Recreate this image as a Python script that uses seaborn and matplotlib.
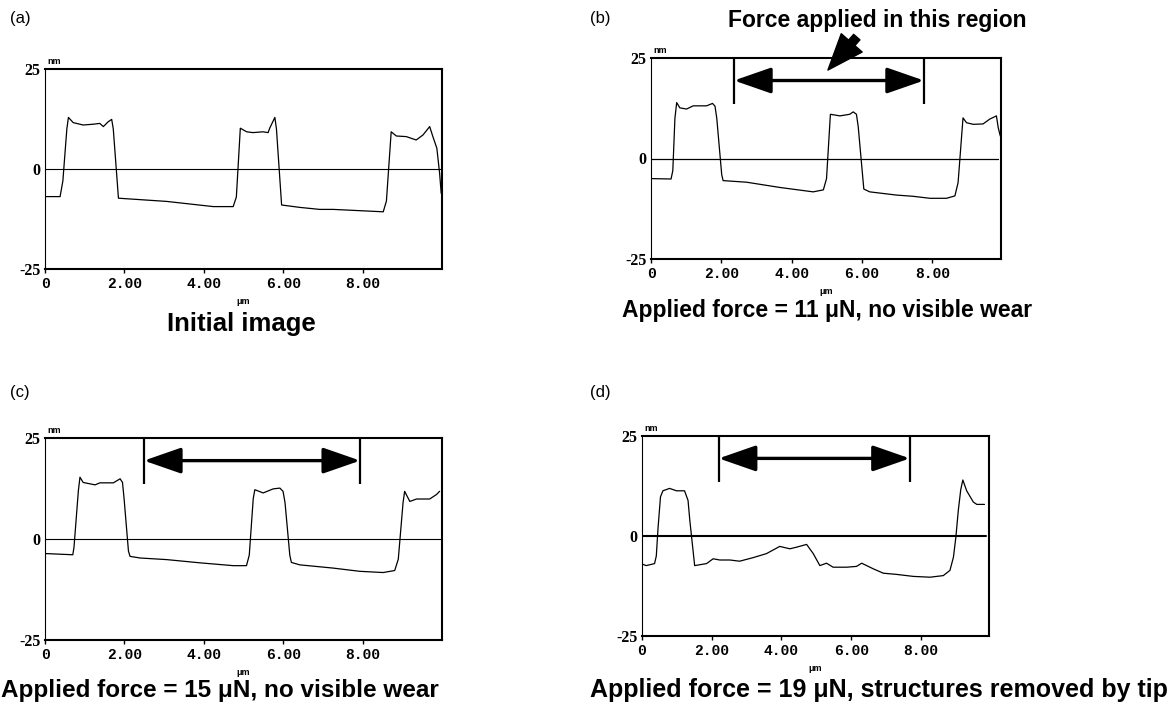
import numpy as np
import pandas as pd
import matplotlib
matplotlib.use('Agg')
import matplotlib.pyplot as plt
import seaborn as sns

sns.set_style('white')
plt.rcParams['font.family'] = ['Liberation Sans', 'DejaVu Sans']
plt.rcParams['text.color'] = 'black'
plt.rcParams['xtick.color'] = 'black'
plt.rcParams['ytick.color'] = 'black'
plt.rcParams['axes.labelcolor'] = 'black'

# AFM height profiles (x in um, height in nm)
a_x = [0.0, 0.38, 0.45, 0.55, 0.59, 0.71, 0.96, 1.22, 1.38, 1.47, 1.59, 1.68, 1.72, 1.85, 3.06, 4.24, 4.74,
       4.82, 4.92, 5.08, 5.24, 5.49, 5.62, 5.66, 5.79, 5.83, 5.96, 6.42, 6.92, 7.26, 8.10, 8.52, 8.60, 8.72,
       8.85, 9.10, 9.35, 9.52, 9.69, 9.77, 9.87, 9.94, 9.98]
a_y = [-6.9, -6.9, -3.0, 10.0, 12.9, 11.6, 11.0, 11.2, 11.4, 10.6, 11.8, 12.4, 10.0, -7.3, -8.1, -9.4, -9.4,
       -7.0, 10.2, 9.3, 9.1, 9.3, 9.1, 10.2, 12.9, 10.0, -9.0, -9.6, -10.1, -10.1, -10.5, -10.7, -8.0, 9.3,
       8.25, 8.1, 7.25, 8.5, 10.6, 8.1, 5.2, -1.1, -6.1]

b_x = [0.0, 0.57, 0.62, 0.68, 0.73, 0.82, 1.01, 1.20, 1.58, 1.75, 1.82, 1.87, 2.01, 2.05, 2.72, 3.66, 4.61,
       4.90, 4.99, 5.10, 5.37, 5.65, 5.75, 5.84, 5.89, 6.05, 6.22, 6.98, 7.45, 7.93, 8.40, 8.64, 8.73, 8.87,
       8.97, 9.16, 9.44, 9.63, 9.82, 9.87, 9.93]
b_y = [-5.0, -5.1, -3.0, 10.0, 13.9, 12.6, 12.3, 13.1, 13.1, 13.7, 13.0, 10.0, -4.0, -5.5, -5.9, -7.2, -8.3,
       -7.8, -5.0, 11.0, 10.6, 11.0, 11.6, 11.0, 8.0, -7.6, -8.3, -9.1, -9.4, -9.9, -9.9, -9.3, -6.0, 10.1,
       8.9, 8.5, 8.6, 9.8, 10.6, 7.7, 5.6]

c_x = [0.0, 0.70, 0.73, 0.84, 0.88, 0.96, 1.26, 1.38, 1.72, 1.89, 1.95, 1.99, 2.10, 2.14, 2.39, 3.06, 3.90,
       4.74, 5.07, 5.14, 5.24, 5.28, 5.49, 5.74, 5.91, 5.99, 6.04, 6.16, 6.20, 6.41, 7.25, 7.92, 8.51, 8.80,
       8.89, 9.01, 9.05, 9.18, 9.35, 9.68, 9.85, 9.93]
c_y = [-3.6, -3.9, -2.0, 12.0, 15.3, 14.0, 13.4, 13.9, 13.9, 14.9, 14.0, 10.0, -3.0, -4.3, -4.7, -5.1, -5.9,
       -6.6, -6.6, -4.0, 10.0, 12.2, 11.4, 12.4, 12.6, 11.8, 9.0, -4.0, -5.8, -6.4, -7.2, -8.0, -8.3, -7.8,
       -5.0, 9.0, 11.8, 9.3, 9.9, 9.9, 11.0, 11.8]

d_x = [0.03, 0.12, 0.36, 0.41, 0.46, 0.53, 0.60, 0.79, 0.99, 1.22, 1.32, 1.37, 1.51, 1.85, 2.04, 2.23, 2.52,
       2.80, 3.19, 3.57, 3.95, 4.24, 4.43, 4.72, 4.91, 5.10, 5.29, 5.48, 5.87, 6.15, 6.30, 6.63, 6.92, 7.30,
       7.78, 8.26, 8.64, 8.83, 8.93, 9.00, 9.07, 9.14, 9.20, 9.31, 9.50, 9.60, 9.82]
d_y = [-7.1, -7.4, -6.9, -5.0, 2.0, 9.8, 11.3, 11.9, 11.3, 11.3, 8.9, 4.0, -7.4, -6.9, -5.7, -6.0, -6.0,
       -6.3, -5.4, -4.4, -2.6, -3.2, -2.8, -2.1, -4.4, -7.4, -6.8, -7.8, -7.8, -7.6, -6.8, -8.2, -9.3, -9.6,
       -10.1, -10.3, -9.9, -8.6, -5.3, -0.3, 6.4, 11.6, 14.0, 11.3, 8.5, 7.9, 7.9]

panel_letters = ['(a)', '(b)', '(c)', '(d)']
captions = ['Initial image',
            'Applied force = 11 \u03bcN, no visible wear',
            'Applied force = 15 \u03bcN, no visible wear',
            'Applied force = 19 \u03bcN, structures removed by tip']
# force region (um) marked with the double arrow, None for the initial scan
region_start = [None, 2.36, 2.49, 2.20]
region_end = [None, 7.76, 7.93, 7.68]

y_ticks = [-25, 0, 25]
y_tick_labels = ['-25', '0', '25']
x_ticks = [0, 2, 4, 6, 8]
x_tick_labels = ['0', '2.00', '4.00', '6.00', '8.00']

W, H = 1174, 711
fig = plt.figure(figsize=(W / 100, H / 100), dpi=100)


def px_box(l, t, r, b):
    return [l / W, 1 - b / H, (r - l) / W, (b - t) / H]


boxes = [px_box(45, 69, 442, 269), px_box(651, 58, 1001, 259),
         px_box(45, 438, 442, 640), px_box(642, 436, 989, 636)]
xmax = [10.0, 9.95, 9.99, 9.95]
zero_end = [1.0, 0.992, 1.0, 0.99]
profiles = [(a_x, a_y), (b_x, b_y), (c_x, c_y), (d_x, d_y)]
zero_lw = [0.8, 0.9, 0.8, 1.5]

axes = []
for i, (box, (px_, py_)) in enumerate(zip(boxes, profiles)):
    ax = fig.add_axes(box)
    df = pd.DataFrame({'x': px_, 'h': py_})
    sns.lineplot(data=df, x='x', y='h', ax=ax, color='black', linewidth=0.9,
                 estimator=None, sort=False)
    ax.axhline(0, xmin=0, xmax=zero_end[i], color='black', lw=zero_lw[i])
    ax.set_xlim(0, xmax[i])
    ax.set_ylim(-25, 25)
    ax.set_xlabel('')
    ax.set_ylabel('')
    ax.set_yticks(y_ticks)
    ax.set_yticklabels(y_tick_labels, fontfamily='Liberation Serif', fontweight='bold', fontsize=11.5)
    ax.set_xticks(x_ticks)
    ax.set_xticklabels(x_tick_labels, fontfamily='Liberation Mono', fontweight='bold', fontsize=10.5)
    ax.tick_params(axis='y', length=0, pad=3)
    ax.tick_params(axis='x', length=3, width=1, direction='out', pad=3, bottom=True)
    for side, sp in ax.spines.items():
        sp.set_visible(True)
        sp.set_color('black')
        sp.set_linewidth(0.8 if side == 'left' else 1.5)
    # units
    ax.annotate('nm', xy=(0, 1), xycoords='axes fraction', xytext=(2, 2), textcoords='offset points',
                fontsize=6.5, fontweight='bold', ha='left', va='bottom')
    ax.annotate('\u03bcm', xy=(0.5, 0), xycoords='axes fraction', xytext=(0, -20), textcoords='offset points',
                fontsize=6.5, fontweight='bold', ha='center', va='top')
    # force region marker
    if region_start[i] is not None:
        x0, x1 = region_start[i], region_end[i]
        ax.vlines([x0, x1], 13.6, 25, color='black', lw=1.6)
        ax.annotate('', xy=(x1, 19.4), xytext=(x0, 19.4),
                    arrowprops=dict(arrowstyle='<|-|>,head_length=2.3,head_width=0.8',
                                    lw=2.4, color='black', shrinkA=0, shrinkB=0, mutation_scale=10))
    axes.append(ax)

# pointer arrow for the force region label
axes[1].annotate('', xy=(5.03, 22.0), xytext=(5.85, 30.2), annotation_clip=False,
                 arrowprops=dict(arrowstyle='simple,head_length=2.6,head_width=2.0,tail_width=0.6',
                                 color='black', shrinkA=0, shrinkB=0, mutation_scale=10))

# panel letters and captions
letter_pos = [(10, 18), (590, 18), (10, 393), (590, 393)]
for (lx, ly), lab in zip(letter_pos, panel_letters):
    fig.text(lx / W, 1 - ly / H, lab, fontsize=12, ha='left', va='center')

cap_pos = [(241, 324), (827, 310), (220, 690), (879, 690)]
cap_size = [18.5, 16.5, 17.5, 18]
for (cx, cy), cap, fs in zip(cap_pos, captions, cap_size):
    fig.text(cx / W, 1 - cy / H, cap, fontsize=fs, fontweight='bold', ha='center', va='center')

fig.text(877 / W, 1 - 20 / H, 'Force applied in this region', fontsize=16.5, fontweight='bold',
         ha='center', va='center')

fig.savefig('out.png', dpi=100)
